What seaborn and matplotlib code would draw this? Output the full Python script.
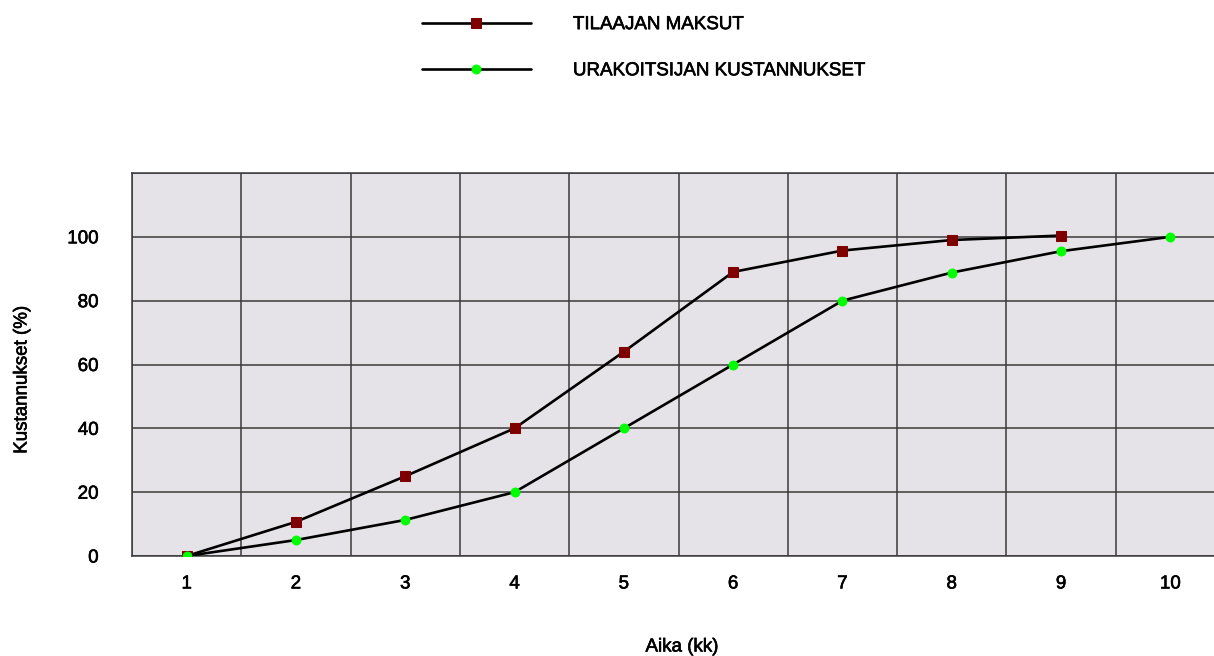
import matplotlib
matplotlib.use("Agg")
import matplotlib.pyplot as plt
import matplotlib.patheffects as pe
import seaborn as sns
import pandas as pd
from matplotlib.ticker import FixedLocator

# Months (kk) and cumulative cost shares (%)
months = [1, 2, 3, 4, 5, 6, 7, 8, 9, 10]
tilaajan_maksut = [0, 10.7, 25, 40, 64, 89, 95.7, 99, 100.4]
urakoitsijan_kustannukset = [0, 5, 11.3, 20, 40, 60, 80, 88.8, 95.5, 100]
y_ticks = [0, 20, 40, 60, 80, 100, 120]
y_tick_labels = ["0", "20", "40", "60", "80", "100", ""]

sns.set_theme(style="white")
plt.rcParams["font.family"] = ["Liberation Sans", "DejaVu Sans"]
plt.rcParams["text.color"] = "black"
plt.rcParams["axes.labelcolor"] = "black"

# slight outline so the small text reads a little heavier
heavy = [pe.withStroke(linewidth=0.45, foreground="black")]

df_t = pd.DataFrame({"kk": months[:len(tilaajan_maksut)], "pct": tilaajan_maksut})
df_u = pd.DataFrame({"kk": months, "pct": urakoitsijan_kustannukset})

fig = plt.figure(figsize=(12.14, 6.56), dpi=100)
ax = fig.add_axes([132 / 1214, 1 - 556 / 656, 1093 / 1214, 383 / 656])
ax.set_facecolor("#e5e3e7")

sns.lineplot(data=df_t, x="kk", y="pct", ax=ax, color="black", lw=1.9,
             marker="s", markersize=7.6, markerfacecolor="#7f0000",
             markeredgecolor="#7f0000", label="TILAAJAN MAKSUT", zorder=3)
sns.lineplot(data=df_u, x="kk", y="pct", ax=ax, color="black", lw=1.9,
             marker="o", markersize=6.4, markerfacecolor="#00ff00",
             markeredgecolor="#00ff00", label="URAKOITSIJAN KUSTANNUKSET", zorder=3)

ax.set_xlim(0.5, 10.5)
ax.set_ylim(0, 120)
ax.set_xticks(months)
ax.set_xticklabels([str(m) for m in months])
ax.xaxis.set_minor_locator(FixedLocator([m + 0.5 for m in range(0, 11)]))
ax.set_yticks(y_ticks)
ax.set_yticklabels(y_tick_labels)

ax.grid(False)
ax.grid(True, which="minor", axis="x", color="#3a3a3a", lw=1.1)
ax.grid(True, which="major", axis="y", color="#3a3a3a", lw=1.1)
ax.tick_params(which="both", length=0)
ax.tick_params(axis="x", labelsize=13.5, pad=14, colors="black")
ax.tick_params(axis="y", labelsize=13.5, pad=24, colors="black")
for lbl in ax.get_xticklabels() + ax.get_yticklabels():
    lbl.set_path_effects(heavy)
for s in ax.spines.values():
    s.set_color("#3a3a3a")
    s.set_linewidth(1.1)

ax.set_xlabel("Aika (kk)", fontsize=13.5, path_effects=heavy, va="center")
ax.set_ylabel("Kustannukset (%)", fontsize=13.5, path_effects=heavy, va="center")
ax.xaxis.set_label_coords((682 - 132) / 1093, (556 - 647) / 383)
ax.yaxis.set_label_coords((22 - 132) / 1093, (556 - 380) / 383)

ax.legend_.remove()
handles, labels = ax.get_legend_handles_labels()
leg = fig.legend(handles, labels, loc="upper left",
                 bbox_to_anchor=(422 / 1214, 1 - 16 / 656),
                 frameon=False, fontsize=13.5, handlelength=5.8,
                 handletextpad=2.25, labelspacing=1.55, borderpad=0,
                 borderaxespad=0)
for t in leg.get_texts():
    t.set_path_effects(heavy)

fig.savefig("out.png", dpi=100)
